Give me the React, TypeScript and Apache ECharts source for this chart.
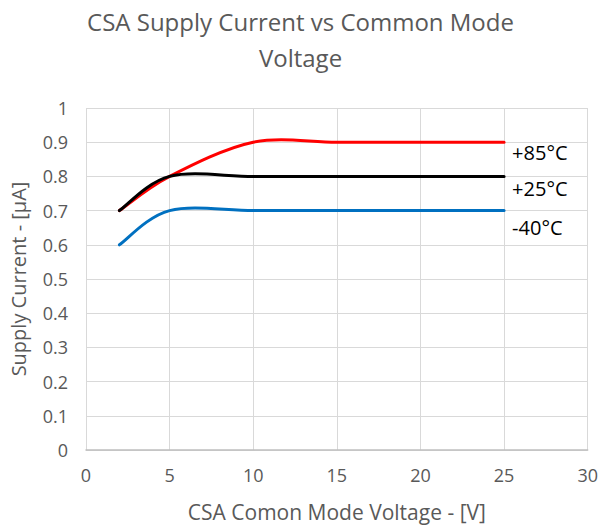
import React, { useEffect, useRef } from "react";
import * as echarts from "echarts";

const voltages = [2, 5, 10, 15, 20, 25];
const current85 = [0.7, 0.8, 0.9, 0.9, 0.9, 0.9];
const current25 = [0.7, 0.8, 0.8, 0.8, 0.8, 0.8];
const currentM40 = [0.6, 0.7, 0.7, 0.7, 0.7, 0.7];
const seriesNames = ["+85°C", "+25°C", "-40°C"];
const seriesColors = ["#ff0000", "#000000", "#0070c0"];
const labelOffsetsY = [10, 12, 17];

const FONT = "'Open Sans', 'Noto Sans', sans-serif";

function smoothPath(pts: number[][]): string {
  const n = pts.length;
  let d = `M${pts[0][0]},${pts[0][1]}`;
  for (let i = 0; i < n - 1; i++) {
    const p0 = pts[i - 1] || pts[i];
    const p1 = pts[i];
    const p2 = pts[i + 1];
    const p3 = pts[i + 2] || pts[i + 1];
    const c1x = p1[0] + (p2[0] - p0[0]) / 6;
    const c1y = p1[1] + (p2[1] - p0[1]) / 6;
    const c2x = p2[0] - (p3[0] - p1[0]) / 6;
    const c2y = p2[1] - (p3[1] - p1[1]) / 6;
    d += ` C${c1x},${c1y} ${c2x},${c2y} ${p2[0]},${p2[1]}`;
  }
  return d;
}

export default function App() {
  const ref = useRef<HTMLDivElement>(null);
  useEffect(() => {
    if (!ref.current) return;
    const chart = echarts.init(ref.current, undefined, { renderer: "svg" });
    const mk = (idx: number, vals: number[]) => {
      const data = voltages.map((v, i) => [v, vals[i]]);
      return {
        name: seriesNames[idx],
        type: "custom",
        data,
        encode: { x: 0, y: 1 },
        renderItem: (params: any, api: any) => {
          if (params.dataIndex !== 0) return null;
          const pts = data.map((p) => api.coord(p));
          const last = pts[pts.length - 1];
          return {
            type: "group",
            children: [
              {
                type: "path",
                shape: { pathData: smoothPath(pts) },
                style: {
                  stroke: seriesColors[idx],
                  lineWidth: 3,
                  fill: "none",
                  lineCap: "round",
                },
              },
              {
                type: "text",
                x: last[0] + 8,
                y: last[1] + labelOffsetsY[idx],
                style: {
                  text: seriesNames[idx],
                  fill: "#000",
                  fontSize: 20,
                  fontFamily: FONT,
                  align: "left",
                  verticalAlign: "middle",
                },
              },
            ],
          };
        },
      };
    };
    chart.setOption({
      animation: false,
      backgroundColor: "#fff",
      title: {
        text: "CSA Supply Current vs Common Mode\nVoltage",
        left: "center",
        top: -2,
        textStyle: {
          color: "#595959",
          fontSize: 24,
          fontWeight: "normal",
          fontFamily: FONT,
          lineHeight: 36,
        },
      },
      grid: { left: 86, right: 13, top: 108, bottom: 74 },
      xAxis: {
        type: "value",
        min: 0,
        max: 30,
        interval: 5,
        name: "CSA Comon Mode Voltage - [V]",
        nameLocation: "middle",
        nameGap: 51,
        nameTextStyle: { color: "#595959", fontSize: 21, fontFamily: FONT },
        axisLine: { show: true, lineStyle: { color: "#bfbfbf", width: 1.5 } },
        axisTick: { show: false },
        axisLabel: { color: "#595959", fontSize: 18, fontFamily: FONT, margin: 16 },
        splitLine: { show: true, lineStyle: { color: "#d9d9d9", width: 1 } },
      },
      yAxis: {
        type: "value",
        min: 0,
        max: 1,
        interval: 0.1,
        name: "Supply Current - [µA]",
        nameLocation: "middle",
        nameGap: 58,
        nameTextStyle: { color: "#595959", fontSize: 20, fontFamily: FONT },
        axisLine: { show: false },
        axisTick: { show: false },
        axisLabel: { color: "#595959", fontSize: 18, fontFamily: FONT, margin: 18 },
        splitLine: { show: true, lineStyle: { color: "#d9d9d9", width: 1 } },
      },
      series: [mk(0, current85), mk(1, current25), mk(2, currentM40)],
    });
    return () => chart.dispose();
  }, []);
  return (
    <div
      ref={ref}
      style={{ position: "absolute", left: 0, top: 0, width: 601, height: 527 }}
    />
  );
}
